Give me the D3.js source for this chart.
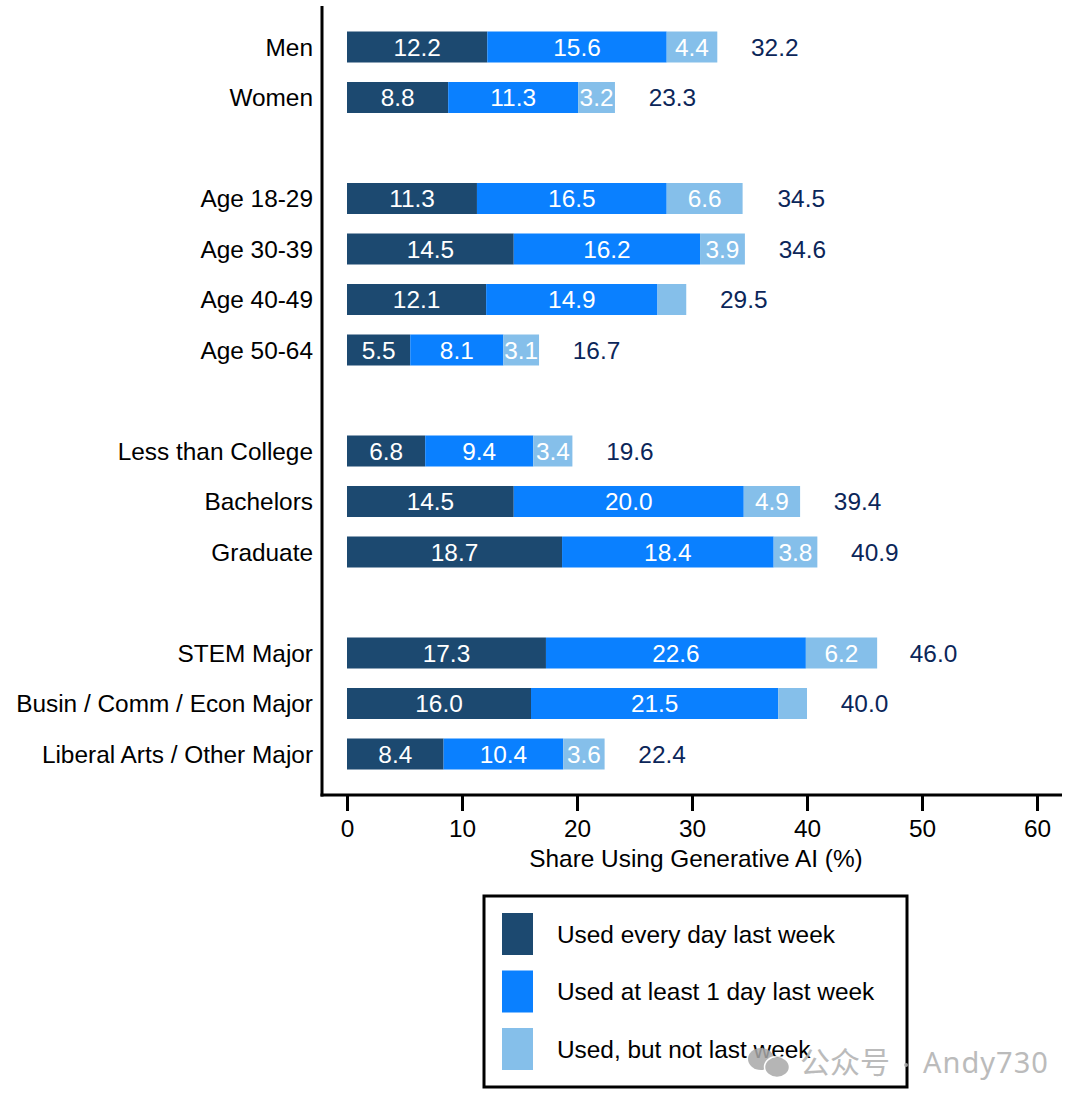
<!DOCTYPE html>
<html><head><meta charset="utf-8">
<script src="https://cdnjs.cloudflare.com/ajax/libs/d3/7.8.5/d3.min.js"></script>
<style>html,body{margin:0;background:#fff}svg{display:block}text{font-family:"Liberation Sans",Arial,sans-serif}</style>
</head><body><svg id="c" width="1080" height="1106"></svg>
<script>
const categories=["Men","Women","_a","Age 18-29","Age 30-39","Age 40-49","Age 50-64","_b","Less than College","Bachelors","Graduate","_c","STEM Major","Busin / Comm / Econ Major","Liberal Arts / Other Major"];
const daily =[12.2,8.8,null,11.3,14.5,12.1,5.5,null,6.8,14.5,18.7,null,17.3,16.0,8.4];
const weekly=[15.6,11.3,null,16.5,16.2,14.9,8.1,null,9.4,20.0,18.4,null,22.6,21.5,10.4];
const notWeek=[4.4,3.2,null,6.6,3.9,2.5,3.1,null,3.4,4.9,3.8,null,6.2,2.5,3.6];
const totals=[32.2,23.3,null,34.5,34.6,29.5,16.7,null,19.6,39.4,40.9,null,46.0,40.0,22.4];
const hideSegLabel=["Age 40-49","Busin / Comm / Econ Major"];
const xTicks=[0,10,20,30,40,50,60];
const seriesNames=["Used every day last week","Used at least 1 day last week","Used, but not last week"];
const colors=["#1c4970","#0a80ff","#85bfea"];
const svg=d3.select("#c");
const x=d3.scaleLinear().domain([0,60]).range([347,1037]);
const y=d3.scalePoint().domain(categories).range([47,754]);
const bh=31, fs=24.4;
const series=[daily,weekly,notWeek];
categories.forEach((c,i)=>{
  if(totals[i]===null)return;
  let s=0;
  series.forEach((arr,k)=>{
    const v=arr[i];
    svg.append("rect").attr("x",x(s)).attr("y",y(c)-bh/2).attr("width",x(s+v)-x(s)).attr("height",bh).attr("fill",colors[k]);
    if(!(k===2&&hideSegLabel.includes(c)))
      svg.append("text").attr("x",x(s+v/2)).attr("y",y(c)+8.5).attr("text-anchor","middle").attr("font-size",fs).attr("fill","#fff").text(v.toFixed(1));
    s+=v;
  });
  svg.append("text").attr("x",x(totals[i]+5)).attr("y",y(c)+8.5).attr("text-anchor","middle").attr("font-size",fs).attr("fill","#0b2659").text(totals[i].toFixed(1));
  svg.append("text").attr("x",313).attr("y",y(c)+8.5).attr("text-anchor","end").attr("font-size",fs).attr("fill","#000").text(c);
});
// axes
const ax=svg.append("g").attr("transform","translate(0,795)").call(d3.axisBottom(x).tickValues(xTicks).tickFormat(d3.format("d")));
ax.select(".domain").remove();
ax.selectAll("line").attr("stroke","#000").attr("stroke-width",3).attr("y2",16);
ax.selectAll("text").attr("font-size",fs).attr("fill","#000").attr("font-family",'"Liberation Sans"').attr("y",42).attr("dy",0);
svg.append("line").attr("x1",322).attr("x2",322).attr("y1",6).attr("y2",796.5).attr("stroke","#000").attr("stroke-width",3);
svg.append("line").attr("x1",320.5).attr("x2",1062).attr("y1",795).attr("y2",795).attr("stroke","#000").attr("stroke-width",3);
svg.append("text").attr("x",696).attr("y",867).attr("text-anchor","middle").attr("font-size",fs).attr("fill","#000").text("Share Using Generative AI (%)");
// legend
svg.append("rect").attr("x",484).attr("y",896).attr("width",423).attr("height",191).attr("fill","#fff").attr("stroke","#000").attr("stroke-width",3);
const ly=d3.scalePoint().domain(seriesNames).range([934,1049]);
seriesNames.forEach((n,i)=>{
  svg.append("rect").attr("x",502).attr("y",ly(n)-21).attr("width",31).attr("height",42).attr("fill",colors[i]);
  svg.append("text").attr("x",557).attr("y",ly(n)+8.5).attr("font-size",fs).attr("fill","#000").text(n);
});
// watermark
const wm=svg.append("g").attr("opacity",.85);
wm.append("ellipse").attr("cx",761).attr("cy",1059).attr("rx",13).attr("ry",11).attr("fill","#a9a9a9");
wm.append("ellipse").attr("cx",777).attr("cy",1067).attr("rx",12.5).attr("ry",10.5).attr("fill","#a9a9a9").attr("stroke","#fff").attr("stroke-width",1.5);
wm.append("text").attr("x",800).attr("y",1073).attr("font-size",30).attr("fill","#b0b0b0").style("font-family",'"Noto Sans CJK SC"').text("公众号");
wm.append("circle").attr("cx",906).attr("cy",1065).attr("r",2).attr("fill","#b0b0b0");
wm.append("text").attr("x",923).attr("y",1073).attr("font-size",29).attr("letter-spacing",1).attr("fill","#b0b0b0").style("font-family",'"Noto Sans"').text("Andy730");
</script></body></html>
